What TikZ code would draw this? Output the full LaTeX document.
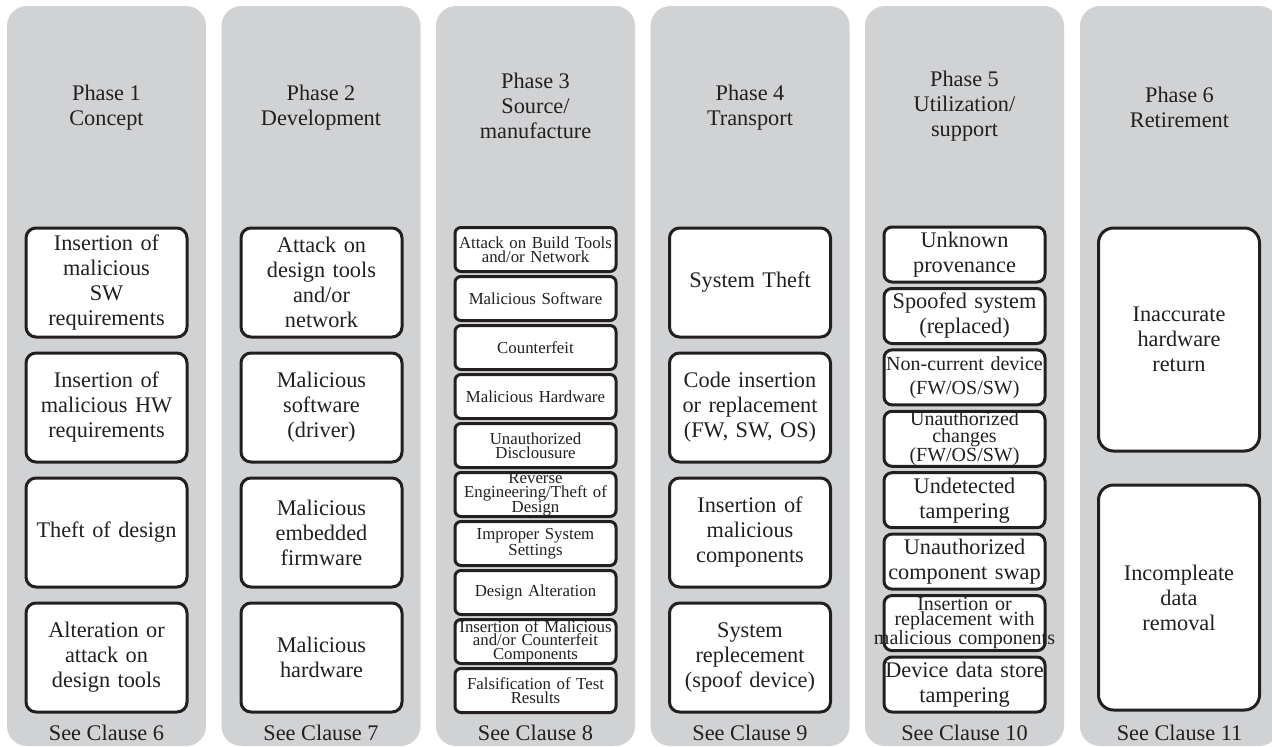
\documentclass[tikz,border=0pt]{standalone}
\usepackage{fontspec}
\setmainfont{Liberation Serif}
\definecolor{colgrey}{HTML}{D1D2D4}
\definecolor{txt}{HTML}{231F20}
\newcommand\ovrline[1]{\hbox to\linewidth{\hss#1\hss}}
\tikzset{
  colbg/.style={fill=colgrey, rounded corners=20pt, minimum width=199pt, minimum height=740pt, inner sep=0pt},
  ttl/.style={align=center, text=txt, font=\fontsize{22.3}{25}\selectfont},
  foot/.style={anchor=base, text=txt, font=\fontsize{22.3}{25}\selectfont},
  bx/.style={draw=txt, line width=3pt, fill=white, rounded corners=10pt, minimum width=161pt,
    text width=161pt, inner xsep=0pt, inner ysep=0pt, align=center, text=txt,
    font=\fontsize{22.3}{25}\selectfont},
  bigbx/.style={bx, minimum height=109pt},
  smallbx/.style={bx, minimum height=44pt, rounded corners=6pt, font=\fontsize{16.8}{13.5}\selectfont},
  midbx/.style={bx, minimum height=55pt, rounded corners=8pt},
  tallbx/.style={bx, minimum height=223pt, rounded corners=15pt},
}
\begin{document}
\begin{tikzpicture}[x=1pt,y=-1pt]
\useasboundingbox (0,0) rectangle (1272,747);
\clip (0,0) rectangle (1272,747);
% columns
\node[colbg] (c1) at (106.5,376) {};
\node[colbg] (c2) at (321,376) {};
\node[colbg] (c3) at (535.5,376) {};
\node[colbg] (c4) at (750,376) {};
\node[colbg] (c5) at (964.5,376) {};
\node[colbg] (c6) at (1179.5,376) {};
% titles
\node[ttl] (t1) at (106.5,108) {Phase 1\\Concept};
\node[ttl] (t2) at (321,108) {Phase 2\\Development};
\node[ttl] (t3) at (535.5,106) {Phase 3\\Source/\\manufacture};
\node[ttl] (t4) at (750,108) {Phase 4\\Transport};
\node[ttl] (t5) at (964.5,106) {Phase 5\\Utilization/\\support};
\node[ttl] (t6) at (1179.5,107) {Phase 6\\Retirement};
% footers
\node[foot] (f1) at (106.5,740) {See Clause 6};
\node[foot] (f2) at (321,740) {See Clause 7};
\node[foot] (f3) at (535.5,740) {See Clause 8};
\node[foot] (f4) at (750,740) {See Clause 9};
\node[foot] (f5) at (964.5,740) {See Clause 10};
\node[foot] (f6) at (1179.5,740) {See Clause 11};
% column 1
\node[bigbx] (a1) at (106.5,282.5) {Insertion of\\malicious\\SW\\requirements};
\node[bigbx] (a2) at (106.5,407.5) {Insertion of\\malicious HW\\requirements};
\node[bigbx] (a3) at (106.5,532.5) {Theft of design};
\node[bigbx] (a4) at (106.5,657.5) {Alteration or\\attack on\\design tools};
% column 2
\node[bigbx] (b1) at (321.5,282.5) {Attack on\\design tools\\and/or\\network};
\node[bigbx] (b2) at (321.5,407.5) {Malicious\\software\\(driver)};
\node[bigbx] (b3) at (321.5,532.5) {Malicious\\embedded\\firmware};
\node[bigbx] (b4) at (321.5,657.5) {Malicious\\hardware};
% column 3
\node[smallbx] (s1) at (535.5,249.5) {Attack on Build Tools\\and/or Network};
\node[smallbx] (s2) at (535.5,298.5) {Malicious Software};
\node[smallbx] (s3) at (535.5,347.5) {Counterfeit};
\node[smallbx] (s4) at (535.5,396.5) {Malicious Hardware};
\node[smallbx] (s5) at (535.5,445.5) {Unauthorized\\Disclousure};
\node[smallbx] (s6) at (535.5,494.5) {Reverse\\Engineering/Theft of\\Design};
\node[smallbx] (s7) at (535.5,543.5) {Improper System\\Settings};
\node[smallbx] (s8) at (535.5,592.5) {Design Alteration};
\node[smallbx] (s9) at (535.5,641.5) {Insertion of Malicious\\and/or Counterfeit\\Components};
\node[smallbx] (s10) at (535.5,690.5) {Falsification of Test\\Results};
% column 4
\node[bigbx] (d1) at (750,282.5) {System Theft};
\node[bigbx] (d2) at (750,407.5) {Code insertion\\or replacement\\(FW, SW, OS)};
\node[bigbx] (d3) at (750,532.5) {Insertion of\\malicious\\components};
\node[bigbx] (d4) at (750,657.5) {System\\replecement\\(spoof device)};
% column 5
\node[midbx] (e1) at (964.5,254.5) {Unknown\\provenance};
\node[midbx] (e2) at (964.5,316) {Spoofed system\\(replaced)};
\node[midbx, font=\fontsize{20}{24}\selectfont] (e3) at (964.5,377.4) {Non-current device\\(FW/OS/SW)};
\node[midbx, font=\fontsize{20}{16.5}\selectfont] (e4) at (964.5,438.8) {Unauthorized\\changes\\(FW/OS/SW)};
\node[midbx] (e5) at (964.5,500.2) {Undetected\\tampering};
\node[midbx] (e6) at (964.5,561.6) {Unauthorized\\\ovrline{component swap}};
\node[midbx, font=\fontsize{20}{15.5}\selectfont] (e7) at (964.5,623.1) {Insertion or\\replacement with\\\ovrline{malicious components}};
\node[midbx] (e8) at (964.5,684.5) {\ovrline{Device data store}\\tampering};
% column 6
\node[tallbx] (g1) at (1179,339.5) {Inaccurate\\hardware\\return};
\node[tallbx, minimum height=225pt] (g2) at (1179,597.5) {Incompleate\\data\\removal};
\end{tikzpicture}
\end{document}
